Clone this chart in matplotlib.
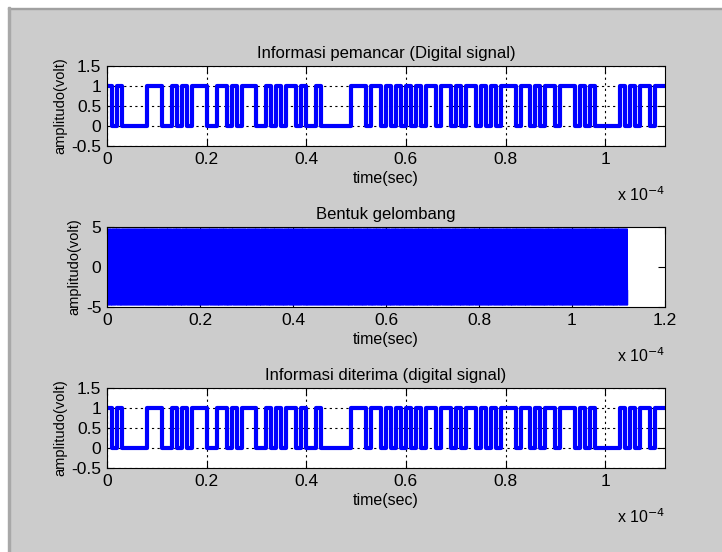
import numpy as np
import matplotlib
matplotlib.use('Agg')
import matplotlib.pyplot as plt
from matplotlib.patches import Rectangle

plt.rcParams['font.family'] = ['Liberation Sans', 'DejaVu Sans']

# bit stream sent / received (1 bit = 1 us)
bits = [1, 0, 1, 0, 0, 0, 0, 0, 1, 1,
        1, 0, 0, 1, 0, 1, 0, 1, 1, 1,
        0, 0, 1, 1, 0, 1, 0, 1, 1, 1,
        0, 0, 1, 0, 1, 0, 1, 1, 0, 1,
        0, 0, 1, 0, 0, 0, 0, 0, 0, 1,
        1, 1, 0, 1, 1, 0, 1, 0, 1, 0,
        1, 0, 1, 0, 1, 1, 0, 1, 1, 0,
        1, 0, 1, 1, 0, 1, 0, 1, 0, 1,
        1, 1, 0, 1, 1, 0, 1, 0, 1, 1,
        0, 1, 1, 1, 0, 1, 0, 1, 0, 0,
        0, 0, 0, 1, 0, 1, 0, 1, 1, 0,
        1, 1]
bit_period = 1e-6
amp = 5
cycles_per_bit = 10
samples_per_bit = 100

titles = ['Informasi pemancar (Digital signal)', 'Bentuk gelombang',
          'Informasi diterima (digital signal)']
dig_yticks = [-0.5, 0, 0.5, 1, 1.5]
dig_ylabels = ['-0.5', '0', '0.5', '1', '1.5']
dig_xticks = [0, 0.2e-4, 0.4e-4, 0.6e-4, 0.8e-4, 1e-4]
dig_xlabels = ['0', '0.2', '0.4', '0.6', '0.8', '1']
wave_yticks = [-5, 0, 5]
wave_ylabels = ['-5', '0', '5']
wave_xticks = [0, 0.2e-4, 0.4e-4, 0.6e-4, 0.8e-4, 1e-4, 1.2e-4]
wave_xlabels = ['0', '0.2', '0.4', '0.6', '0.8', '1', '1.2']

n = len(bits)
b = np.array(bits)
t_bits = np.arange(n + 1) * bit_period
y_bits = np.append(b, b[-1])

# BPSK waveform from the bits
tw = np.arange(n * samples_per_bit) * bit_period / samples_per_bit
sign = np.repeat(2 * b - 1, samples_per_bit)
wave = amp * sign * np.sin(2 * np.pi * cycles_per_bit / bit_period * tw)

fig = plt.figure(figsize=(7.22, 5.52), dpi=100, facecolor='#cccccc')
W, H = 722, 552
fig.add_artist(Rectangle((0, 1 - 7 / H), 1, 7 / H, transform=fig.transFigure, color='white', zorder=0))
fig.add_artist(Rectangle((0, 0), 8 / W, 1, transform=fig.transFigure, color='white', zorder=0))
fig.add_artist(Rectangle((8 / W, 1 - 9 / H), 1, 1.5 / H, transform=fig.transFigure, color='#a0a0a0', zorder=0))
fig.add_artist(Rectangle((8 / W, 0), 1.5 / W, 1 - 7 / H, transform=fig.transFigure, color='#a8a8a8', zorder=0))

left, width, height = 107 / W, 558 / W, 80 / H
bottoms = [1 - 146 / H, 1 - 307 / H, 1 - 468 / H]


def style(ax, title, xlabels, ylabels):
    ax.set_title(title, fontsize=12, pad=6)
    ax.set_xlabel('time(sec)', fontsize=11.5, labelpad=3)
    ax.set_ylabel('amplitudo(volt)', fontsize=10.5, labelpad=3)
    ax.set_xticklabels(xlabels, fontsize=12.5)
    ax.set_yticklabels(ylabels, fontsize=12.5)
    ax.tick_params(direction='in', top=True, right=True, length=5, width=0.8, pad=4)
    for s in ax.spines.values():
        s.set_linewidth(0.8)
    ax.annotate('x 10$^{-4}$', xy=(1, 0), xycoords='axes fraction', xytext=(0, -35),
                textcoords='offset points', ha='right', va='center', fontsize=11.5)


for i in [0, 2]:
    ax = fig.add_axes([left, bottoms[i], width, height])
    ax.step(t_bits, y_bits, where='post', color='#0000ff', lw=3)
    ax.set_xlim(0, t_bits[-1])
    ax.set_ylim(-0.5, 1.5)
    ax.set_yticks(dig_yticks)
    ax.set_xticks(dig_xticks)
    ax.grid(True, color='black', linestyle=(0, (2, 3)), lw=0.8)
    style(ax, titles[i], dig_xlabels, dig_ylabels)

ax = fig.add_axes([left, bottoms[1], width, height])
ax.plot(tw, wave, color='#0000ff', lw=0.6)
ax.set_xlim(0, 1.2e-4)
ax.set_ylim(-5, 5)
ax.set_yticks(wave_yticks)
ax.set_xticks(wave_xticks)
style(ax, titles[1], wave_xlabels, wave_ylabels)

fig.savefig('out.png', dpi=100, facecolor=fig.get_facecolor())
